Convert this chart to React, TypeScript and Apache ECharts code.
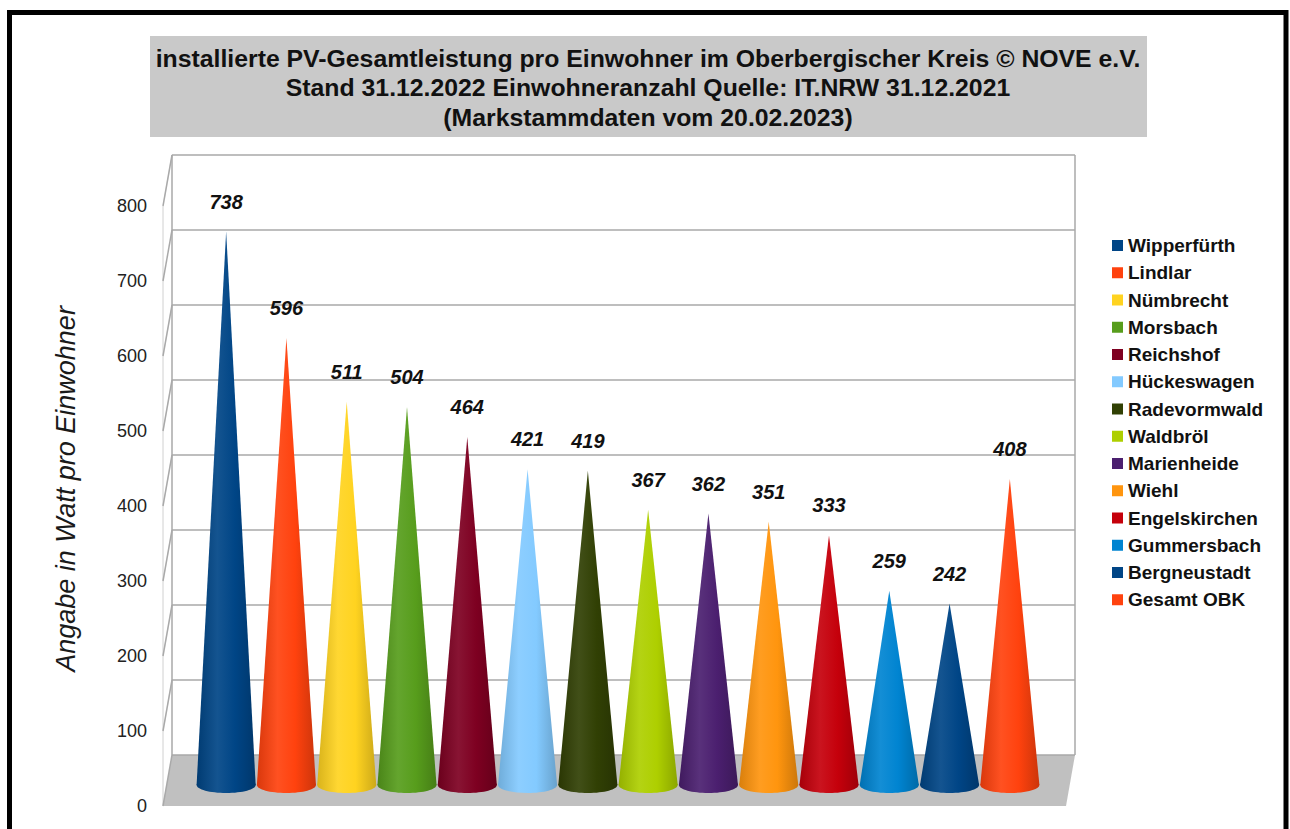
import React, { useEffect, useRef } from 'react';
import * as echarts from 'echarts';

// ---------- data ----------
const categories = [
  'Wipperfürth', 'Lindlar', 'Nümbrecht', 'Morsbach', 'Reichshof', 'Hückeswagen',
  'Radevormwald', 'Waldbröl', 'Marienheide', 'Wiehl', 'Engelskirchen',
  'Gummersbach', 'Bergneustadt', 'Gesamt OBK',
];
const values = [738, 596, 511, 504, 464, 421, 419, 367, 362, 351, 333, 259, 242, 408];
const colors = [
  '#004586', '#ff420e', '#ffd320', '#579d1c', '#7e0021', '#83caff', '#314004',
  '#aecf00', '#4b1f6f', '#ff950e', '#c5000b', '#0084d1', '#004586', '#ff420e',
];
const yTicks = [0, 100, 200, 300, 400, 500, 600, 700, 800];
const titleLines = [
  'installierte PV-Gesamtleistung pro Einwohner im Oberbergischer Kreis © NOVE e.V.',
  'Stand 31.12.2022 Einwohneranzahl Quelle: IT.NRW 31.12.2021',
  '(Markstammdaten vom 20.02.2023)',
];
const yAxisTitle = 'Angabe in Watt pro Einwohner';

// ---------- helpers ----------
const FONT = '"Liberation Sans", Arial, sans-serif';
const DX = 9;
const DY = -51;

function mix(hex: string, target: number, t: number): string {
  const n = parseInt(hex.slice(1), 16);
  const r = (n >> 16) & 255, g = (n >> 8) & 255, b = n & 255;
  const f = (c: number) => Math.round(c + (target - c) * t);
  return `rgb(${f(r)},${f(g)},${f(b)})`;
}

export default function App() {
  const ref = useRef<HTMLDivElement>(null);

  useEffect(() => {
    document.body.style.margin = '0';
    if (!ref.current) return;
    const chart = echarts.init(ref.current, null, { renderer: 'svg' });

    const wallSeries: any = {
      type: 'custom',
      name: '__walls',
      coordinateSystem: 'cartesian2d',
      xAxisIndex: 0,
      yAxisIndex: 0,
      silent: true,
      z: 1,
      data: yTicks.map((v) => [0, v]),
      encode: { x: 0, y: 1 },
      renderItem: (params: any, api: any) => {
        const v = api.value(1);
        const cs = params.coordSys;
        const x0 = cs.x;
        const x1 = cs.x + cs.width;
        const yf = api.coord([0, v])[1];
        const yb = yf + DY;
        const ls = { stroke: '#a9a9a9', lineWidth: 1.5 };
        const children: any[] = [];
        if (v === 0) {
          const yTop = api.coord([0, yTicks[yTicks.length - 1]])[1];
          children.push({
            type: 'polygon',
            shape: { points: [[x0, yf], [x1, yf], [x1 + DX, yb], [x0 + DX, yb]] },
            style: { fill: '#c0c0c0' },
          });
          children.push({ type: 'line', shape: { x1: x0 + DX, y1: yTop + DY, x2: x0 + DX, y2: yb }, style: ls });
          children.push({ type: 'line', shape: { x1: x1 + DX, y1: yTop + DY, x2: x1 + DX, y2: yb }, style: ls });
          children.push({ type: 'line', shape: { x1: x0, y1: yTop, x2: x0, y2: yf }, style: { stroke: '#d0d0d0', lineWidth: 1 } });
        }
        children.push({ type: 'line', shape: { x1: x0 + DX, y1: yb, x2: x1 + DX, y2: yb }, style: ls });
        children.push({ type: 'line', shape: { x1: x0, y1: yf, x2: x0 + DX, y2: yb }, style: ls });
        return { type: 'group', children };
      },
    };

    const coneSeries = categories.map((name, i) => ({
      type: 'custom',
      name,
      coordinateSystem: 'cartesian2d',
      xAxisIndex: 1,
      yAxisIndex: 1,
      z: 3,
      itemStyle: { color: colors[i] },
      data: [[i, values[i]]],
      encode: { x: 0, y: 1 },
      renderItem: (params: any, api: any) => {
        const idx = api.value(0);
        const v = api.value(1);
        const base = api.coord([idx, 0]);
        const tip = api.coord([idx, v]);
        const r = api.size([1, 0])[0] * 0.49;
        const ry = 8;
        const c = colors[i];
        const mk = () =>
          new echarts.graphic.LinearGradient(0, 0, 1, 0, [
            { offset: 0, color: mix(c, 0, 0.15) },
            { offset: 0.35, color: mix(c, 255, 0.08) },
            { offset: 0.65, color: c },
            { offset: 1, color: mix(c, 0, 0.2) },
          ]);
        return {
          type: 'group',
          children: [
            { type: 'ellipse', shape: { cx: base[0], cy: base[1], rx: r, ry }, style: { fill: mk() } },
            {
              type: 'polygon',
              shape: { points: [[base[0] - r, base[1]], [tip[0], tip[1]], [base[0] + r, base[1]]] },
              style: { fill: mk() },
            },
            {
              type: 'text',
              style: {
                text: String(v),
                x: tip[0],
                y: tip[1] - 30,
                align: 'center',
                verticalAlign: 'middle',
                fontSize: 20,
                fontWeight: 'bold',
                fontStyle: 'italic',
                fontFamily: FONT,
                fill: '#111',
              },
            },
          ],
        };
      },
    }));

    const option: any = {
      animation: false,
      backgroundColor: '#ffffff',
      graphic: [
        {
          type: 'rect',
          shape: { x: 150, y: 36, width: 997, height: 101 },
          style: { fill: '#c9c9c9' },
          z: 0,
        },
        ...titleLines.map((t, k) => ({
          type: 'text',
          x: 648,
          y: 58 + k * 29.5,
          z: 2,
          style: {
            text: t,
            align: 'center',
            verticalAlign: 'middle',
            fontSize: 24.8,
            fontWeight: 'bold',
            fontFamily: FONT,
            fill: '#111',
          },
        })),
        {
          type: 'text',
          x: 66,
          y: 489,
          rotation: Math.PI / 2,
          z: 2,
          style: {
            text: yAxisTitle,
            align: 'center',
            verticalAlign: 'middle',
            fontSize: 27,
            fontStyle: 'italic',
            fontFamily: FONT,
            fill: '#1a1a1a',
          },
        },
        {
          type: 'rect',
          shape: { x: 9.5, y: 12.5, width: 1276.5, height: 900 },
          style: { fill: 'none', stroke: '#000', lineWidth: 5 },
          z: 10,
        },
      ],
      legend: {
        orient: 'vertical',
        left: 1112,
        top: 236,
        padding: 0,
        icon: 'rect',
        itemWidth: 11,
        itemHeight: 11,
        itemGap: 8.25,
        selectedMode: false,
        data: categories,
        textStyle: { fontSize: 19, fontWeight: 'bold', fontFamily: FONT, color: '#111', lineHeight: 18 },
      },
      grid: [
        { left: 163, top: 206, width: 903, height: 600 },
        { left: 196, top: 185, width: 844, height: 600 },
      ],
      xAxis: [
        { type: 'value', gridIndex: 0, min: 0, max: 1, show: false },
        { type: 'category', gridIndex: 1, data: categories, show: false },
      ],
      yAxis: [
        {
          type: 'value',
          gridIndex: 0,
          min: 0,
          max: 800,
          interval: 100,
          axisLine: { show: false },
          axisTick: { show: false },
          splitLine: { show: false },
          axisLabel: { fontSize: 18, color: '#222', margin: 16, fontFamily: FONT },
        },
        { type: 'value', gridIndex: 1, min: 0, max: 800, interval: 100, show: false },
      ],
      series: [wallSeries, ...coneSeries],
    };

    chart.setOption(option);
    return () => chart.dispose();
  }, []);

  return <div ref={ref} style={{ width: 1290, height: 829 }} />;
}
